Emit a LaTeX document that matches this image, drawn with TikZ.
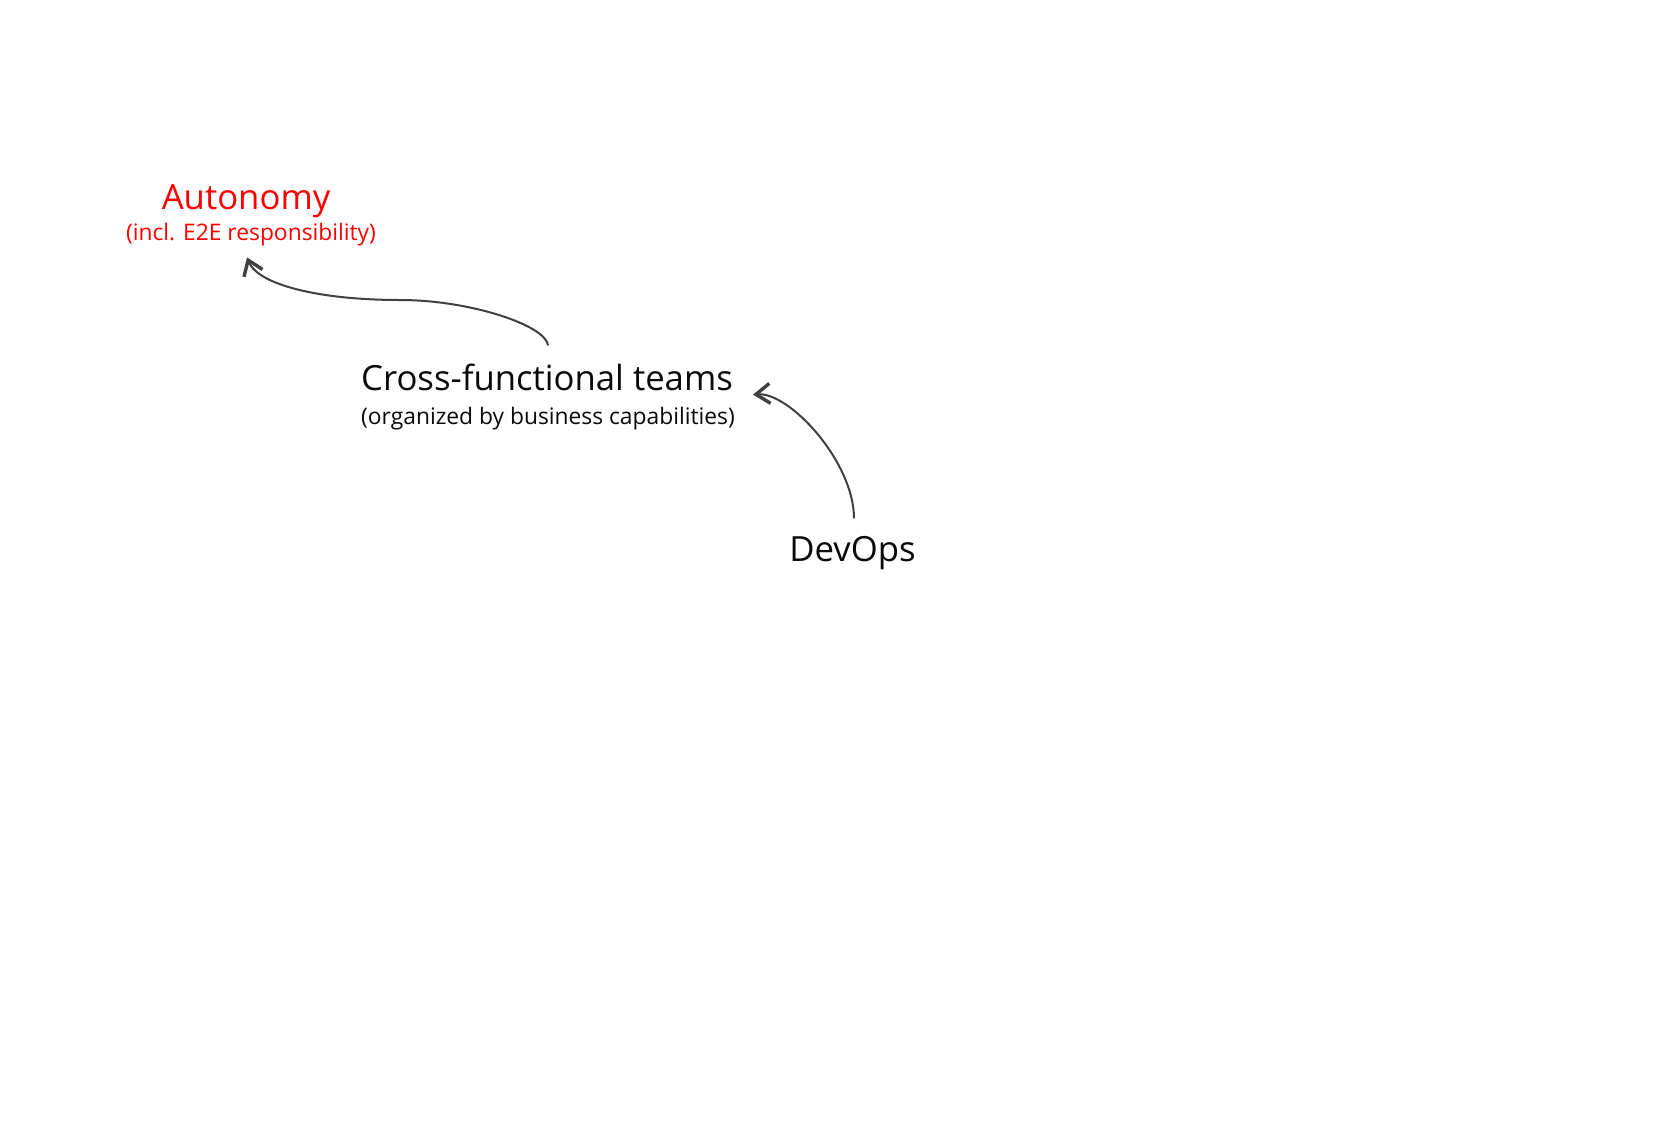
\documentclass[tikz,border=0pt]{standalone}
\usepackage{fontspec}
\setmainfont{Open Sans}
\usetikzlibrary{arrows.meta}
\definecolor{txt}{HTML}{0A0A0A}
\definecolor{redtxt}{HTML}{FF0000}
\definecolor{arr}{HTML}{404040}
\tikzset{
  title/.style={anchor=base, inner sep=0pt, text=txt, font=\fontsize{34.7}{40}\selectfont},
  sub/.style={anchor=base, inner sep=0pt, text=txt, font=\fontsize{22.8}{26}\selectfont},
  conn/.style={draw=arr, line width=2pt, -{Straight Barb[length=14pt, width=20pt, line width=3.4pt]}}
}
\begin{document}
\begin{tikzpicture}[x=1pt, y=1pt]
\useasboundingbox[fill=white] (0,0) rectangle (1680,-1120);
\node[title, text=redtxt] (auto) at (246,-209.3) {Autonomy};
\node[sub, text=redtxt] (autosub) at (251,-240.7) {(incl. E2E responsibility)};
\node[title] (cft) at (547,-390.7) {Cross-functional teams};
\node[sub] (cftsub) at (548,-424) {(organized by business capabilities)};
\node[title] (devops) at (852.5,-561.7) {DevOps};
\coordinate (a1) at ([xshift=1pt, yshift=18.6pt]cft.north);
\coordinate (a2) at ([xshift=-4pt, yshift=-11pt]autosub.south);
\coordinate (b1) at ([xshift=1.5pt, yshift=18pt]devops.north);
\coordinate (b2) at ([xshift=20pt, yshift=-17pt]cft.east);
\draw[conn] (a1) .. controls +(-2,20) and (470,-300) .. (400,-300) .. controls (320,-300) and (258,-285) .. (a2);
\draw[conn] (b1) .. controls +(0,56) and (790,-392) .. (b2);
\end{tikzpicture}
\end{document}
